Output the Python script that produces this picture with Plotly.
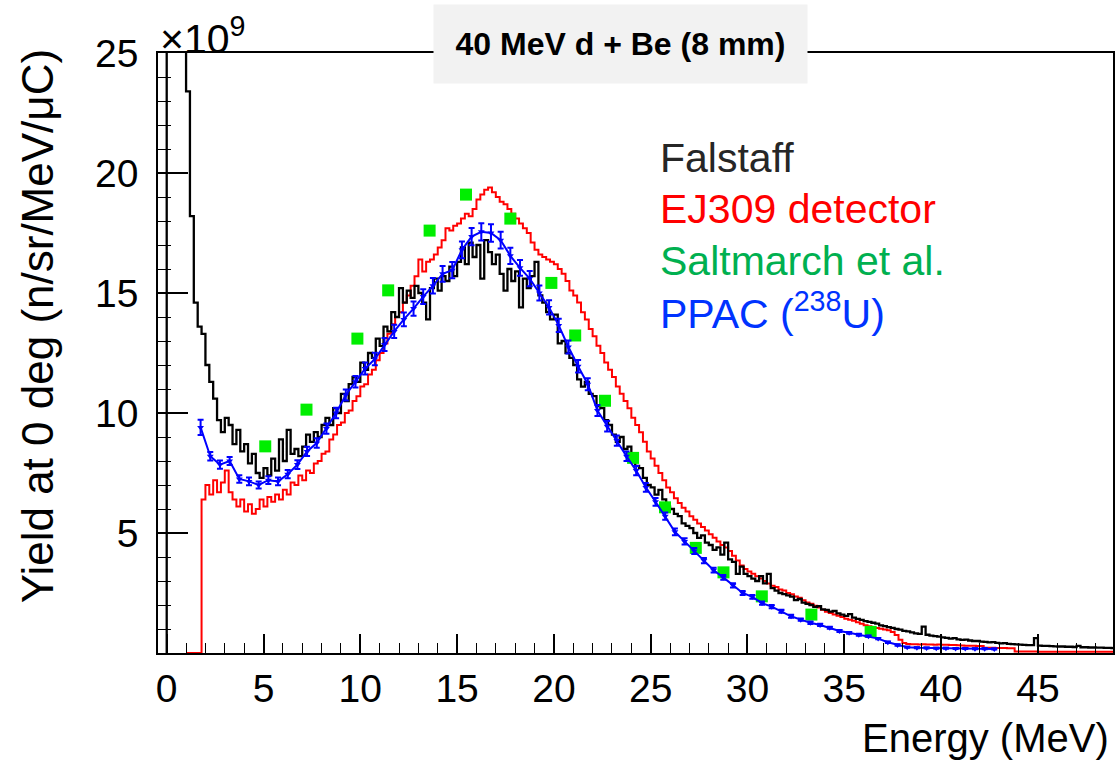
import plotly.graph_objects as go

# ---------------- data (values in units of 1e9 n/sr/MeV/uC) ----------------
# Falstaff histogram: bins of 0.2 MeV starting at 0.0 MeV
falstaff_bin_width = 0.2
falstaff_start = 0.0
falstaff_vals = [
    90, 72, 58, 44, 32, 23.4, 18.2, 14.6, 13.6, 13.3,
    12.0, 11.3, 10.6, 9.7, 9.2, 9.8, 9.5, 8.7, 9.3, 8.4,
    8.7, 7.9, 8.3, 7.5, 7.3, 7.7, 7.4, 8.1, 7.6, 8.9,
    8.0, 9.3, 8.3, 8.5, 8.2, 8.6, 9.1, 8.8, 9.2, 9.0,
    9.5, 9.8, 9.5, 10.2, 10.0, 10.8, 10.5, 11.2, 11.5, 11.3,
    12.1, 11.8, 12.5, 12.3, 13.1, 12.8, 13.6, 13.4, 14.2, 14.0,
    15.2, 14.6, 15.1, 14.8, 15.3, 15.0, 14.6, 13.9, 15.2, 15.6,
    15.1, 15.7, 15.5, 16.1, 15.7, 16.3, 16.9, 16.2, 17.1, 16.5,
    17.0, 15.6, 17.2, 16.7, 16.2, 16.6, 15.8, 15.1, 16.0, 15.5,
    15.9, 14.4, 15.6, 15.2, 15.7, 16.3, 14.9, 14.6, 14.2, 13.9,
    14.1, 12.9, 13.0, 12.5, 12.3, 12.0, 11.4, 11.1, 11.3, 10.8,
    10.7, 10.3, 10.2, 9.7, 9.5, 9.1, 8.8, 9.0, 8.5, 8.6,
    8.1, 7.8, 7.7, 7.3, 7.0, 6.9, 6.6, 6.8, 6.4, 6.1,
    6.0, 5.8, 5.7, 5.4, 5.3, 5.2, 5.0, 4.8, 4.9, 4.6,
    4.5, 4.3, 4.4, 4.1, 4.6, 3.9, 3.8, 3.3, 3.6, 3.3,
    3.2, 3.1, 3.0, 3.2, 2.9, 3.3, 2.7, 2.6, 2.5, 2.45,
    2.4, 2.35, 2.2, 2.25, 2.1, 2.05, 2.0, 1.92, 1.95, 1.82,
    1.8, 1.72, 1.75, 1.65, 1.6, 1.55, 1.62, 1.47, 1.42, 1.38,
    1.33, 1.3, 1.26, 1.22, 1.15, 1.12, 1.08, 1.05, 1.0, 0.97,
    0.92, 0.9, 0.86, 0.82, 0.8, 1.1, 0.76, 0.72, 0.7, 0.68,
    0.65, 0.63, 0.6, 0.62, 0.57, 0.55, 0.56, 0.52, 0.5, 0.5,
    0.47, 0.46, 0.44, 0.45, 0.42, 0.4, 0.41, 0.38, 0.37, 0.36,
    0.35, 0.34, 0.33, 0.33, 0.62, 0.31, 0.3, 0.3, 0.29, 0.28,
    0.27, 0.27, 0.26, 0.26, 0.25, 0.3, 0.24, 0.24, 0.23, 0.23,
    0.22, 0.22, 0.21, 0.21, 0.2,
]

# EJ309 detector histogram: bins of 0.2 MeV starting at 1.0 MeV
ej309_bin_width = 0.2
ej309_start = 1.0
ej309_vals = [
    0, 0, 0, 0,
    6.4, 7.0, 6.6, 7.2, 6.7, 7.1, 7.6, 6.7, 6.4, 6.1,
    6.4, 5.9, 6.2, 5.8, 6.0, 6.4, 6.1, 6.5, 6.3, 6.6,
    6.4, 6.8, 6.6, 7.1, 7.0, 7.4, 7.2, 7.6, 7.5, 7.9,
    8.0, 8.3, 8.4, 8.9, 9.1, 9.5, 9.6, 10.0, 10.1, 10.5,
    10.7, 11.1, 11.2, 11.6, 11.8, 12.2, 12.5, 12.9, 13.3, 13.7,
    14.0, 14.2, 14.6, 14.9, 15.3, 15.7, 16.4, 15.9, 16.3, 16.4,
    16.6, 16.9, 17.2, 17.7, 17.6, 17.8, 17.9, 18.1, 18.3, 18.2,
    18.5, 18.9, 19.1, 19.3, 19.4, 19.2, 19.0, 18.8, 18.7, 18.5,
    18.3, 18.1, 17.9, 17.7, 17.5, 17.1, 16.8, 16.6, 16.5, 16.4,
    16.3, 16.2, 16.0, 15.8, 15.5, 15.1, 14.9, 14.6, 14.2, 13.9,
    13.5, 13.2, 12.8, 12.5, 12.1, 11.8, 11.5, 11.1, 10.8, 10.5,
    10.2, 9.8, 9.5, 9.2, 8.8, 8.4, 8.1, 7.8, 7.5, 7.2,
    6.9, 6.7, 6.45, 6.25, 6.05, 5.9, 5.7, 5.55, 5.4, 5.25,
    5.1, 4.95, 4.8, 4.65, 4.5, 4.4, 4.25, 4.05, 3.85, 3.65,
    3.5, 3.4, 3.3, 3.2, 3.1, 3.0, 2.9, 2.8, 2.75, 2.65,
    2.6, 2.5, 2.45, 2.35, 2.3, 2.2, 2.1, 2.05, 1.97, 1.9,
    1.8, 1.72, 1.67, 1.6, 1.55, 1.5, 1.43, 1.39, 1.34, 1.28,
    1.22, 1.16, 1.11, 1.07, 1.04, 1.01, 0.98, 0.95, 0.88, 0.75,
    0.55, 0.42, 0.37, 0.36, 0.36, 0.35, 0.36, 0.35, 0.35, 0.34,
    0.35, 0.34, 0.34, 0.33, 0.33, 0.32, 0.31, 0.3, 0.3, 0.3,
    0.29, 0.29, 0.22, 0.22, 0.22, 0.21, 0.21, 0.21, 0.2, 0.2,
    0.06, 0.06, 0.06, 0.06, 0.06, 0.06, 0.05, 0.05, 0.05, 0.05,
    0.05, 0.05, 0.05, 0.05, 0.05, 0.05, 0.05, 0.05, 0.05, 0.05,
    0.05, 0.05, 0.05, 0.05, 0.05, 0.05,
]

# Saltmarch et al. data points
saltmarch_E = [5.09, 7.22, 9.85, 11.44, 13.58, 15.46, 17.75, 19.87, 21.10,
               22.64, 24.09, 25.74, 27.33, 28.76, 30.74, 33.30, 36.36]
saltmarch_Y = [8.61, 10.14, 13.10, 15.11, 17.60, 19.10, 18.10, 15.42, 13.23,
               10.51, 8.13, 6.07, 4.38, 3.36, 2.36, 1.60, 0.88]

# PPAC (238U): points every 0.5 MeV starting at 1.75 MeV
ppac_start = 1.75
ppac_step = 0.5
ppac_vals = [
    9.4, 8.2, 7.85, 8.0, 7.25, 7.15, 7.0, 7.2, 7.15, 7.45,
    7.85, 8.4, 8.75, 9.35, 10.0, 10.75, 11.3, 11.85, 12.25, 12.85,
    13.4, 13.9, 14.35, 14.85, 15.3, 15.8, 15.95, 16.8, 17.35, 17.55,
    17.5, 17.2, 16.55, 16.05, 15.6, 15.0, 14.4, 13.65, 12.75, 11.95,
    11.2, 10.1, 9.45, 8.85, 8.2, 7.6, 6.9, 6.3, 5.7, 5.05,
    4.65, 4.25, 3.85, 3.45, 3.15, 2.82, 2.5, 2.34, 2.08, 1.93,
    1.74, 1.53, 1.39, 1.26, 1.17, 1.05, 0.92, 0.84, 0.76, 0.7,
    0.6, 0.45, 0.33, 0.24, 0.22, 0.21, 0.2, 0.2, 0.19, 0.19,
    0.18, 0.18, 0.17,
]
ppac_errs = [
    0.32, 0.18, 0.17, 0.17, 0.16, 0.16, 0.15, 0.16, 0.16, 0.17,
    0.18, 0.19, 0.2, 0.21, 0.22, 0.23, 0.24, 0.25, 0.26, 0.27,
    0.28, 0.29, 0.3, 0.31, 0.32, 0.33, 0.34, 0.35, 0.36, 0.36,
    0.36, 0.35, 0.34, 0.33, 0.32, 0.31, 0.3, 0.28, 0.27, 0.26,
    0.25, 0.23, 0.22, 0.21, 0.2, 0.19, 0.18, 0.16, 0.15, 0.14,
    0.13, 0.12, 0.11, 0.1, 0.1, 0.09, 0.08, 0.08, 0.07, 0.07,
    0.06, 0.06, 0.05, 0.05, 0.05, 0.04, 0.04, 0.04, 0.04, 0.03,
    0.03, 0.03, 0.03, 0.02, 0.02, 0.02, 0.02, 0.02, 0.02, 0.02,
    0.02, 0.02, 0.02,
]

x_tick_vals = [0, 5, 10, 15, 20, 25, 30, 35, 40, 45]
y_tick_vals = [5, 10, 15, 20, 25]

title_text = "<b>40 MeV d + Be (8 mm)</b>"
x_title = "Energy (MeV)"
y_title = "Yield at 0 deg (n/sr/MeV/\u03bcC)"
legend_texts = ["Falstaff", "EJ309 detector", "Saltmarch et al.", "PPAC (<sup>238</sup>U)"]
legend_colors = ["#262626", "#ff0000", "#00b050", "#0033ff"]


def hist_xy(start, width, vals, from_zero=False):
    edges = [round(start + width * i, 4) for i in range(len(vals) + 1)]
    xs = list(edges[:-1]) + [edges[-1]]
    ys = list(vals) + [vals[-1]]
    if from_zero:
        xs = [edges[0]] + xs
        ys = [0] + ys
    return xs, ys


FONT = "Liberation Sans, Arial, Helvetica, sans-serif"

fig = go.Figure()

# EJ309 (red)
rx, ry = hist_xy(ej309_start, ej309_bin_width, ej309_vals)
fig.add_trace(go.Scatter(x=rx, y=ry, mode="lines", line=dict(color="#ff0000", width=2, shape="hv"),
                         name="EJ309 detector"))

# Falstaff (black)
fx, fy = hist_xy(falstaff_start, falstaff_bin_width, falstaff_vals, from_zero=True)
fig.add_trace(go.Scatter(x=fx, y=fy, mode="lines", line=dict(color="#000000", width=2.3, shape="hv"),
                         name="Falstaff"))

# Saltmarch (green squares)
fig.add_trace(go.Scatter(x=saltmarch_E, y=saltmarch_Y, mode="markers",
                         marker=dict(symbol="square", size=12, color="#00ee00", line=dict(width=0)),
                         name="Saltmarch et al."))

# PPAC (blue)
ppac_E = [ppac_start + ppac_step * i for i in range(len(ppac_vals))]
fig.add_trace(go.Scatter(x=ppac_E, y=ppac_vals, mode="lines+markers",
                         line=dict(color="#0000ff", width=2),
                         marker=dict(symbol="triangle-down", size=6, color="#0000ff"),
                         error_y=dict(type="data", array=ppac_errs, visible=True,
                                      color="#0000ff", thickness=2, width=3),
                         name="PPAC"))

axis_common = dict(
    showline=True, linecolor="black", linewidth=1.5, mirror=True,
    showgrid=False, zeroline=False, ticks="inside", tickcolor="black", tickwidth=1.5,
    tickfont=dict(family=FONT, size=39, color="black"),
)

fig.update_xaxes(range=[-0.45, 48.88], tickmode="array", tickvals=x_tick_vals,
                 ticklen=19, ticklabelstandoff=0,
                 minor=dict(dtick=1, tick0=0, ticks="inside", ticklen=10, tickwidth=1.2,
                            tickcolor="black", showgrid=False),
                 **axis_common)
fig.update_yaxes(range=[0, 25], tickmode="array", tickvals=y_tick_vals,
                 ticklen=30, ticklabelstandoff=10,
                 minor=dict(dtick=1, tick0=0, ticks="inside", ticklen=13, tickwidth=1.2,
                            tickcolor="black", showgrid=False),
                 **axis_common)

annotations = [
    dict(text=title_text, xref="paper", yref="paper", x=0.4843, y=1.015,
         xanchor="center", yanchor="middle", showarrow=False,
         font=dict(family=FONT, size=32, color="black"),
         bgcolor="#f2f2f2", width=373, height=78, borderpad=0),
    dict(text="\u00d710<sup>9</sup>", xref="paper", yref="paper", x=0.0, y=0.982,
         xanchor="left", yanchor="bottom", showarrow=False,
         font=dict(family=FONT, size=41, color="black")),
    dict(text=y_title, xref="paper", yref="paper", x=-0.1264, y=0.545,
         xanchor="center", yanchor="middle", textangle=-90, showarrow=False,
         font=dict(family=FONT, size=44, color="black")),
    dict(text=x_title, xref="paper", yref="paper", x=0.998, y=-0.1417,
         xanchor="right", yanchor="middle", showarrow=False,
         font=dict(family=FONT, size=40, color="black")),
]
leg_y = [0.825, 0.74, 0.6533, 0.57]
for t, c, yy in zip(legend_texts, legend_colors, leg_y):
    annotations.append(dict(text=t, xref="paper", yref="paper", x=0.5235, y=yy,
                            xanchor="left", yanchor="middle", showarrow=False,
                            font=dict(family=FONT, size=41, color=c)))

fig.update_layout(
    width=1117, height=767,
    margin=dict(l=158, r=2, t=53, b=114),
    plot_bgcolor="white", paper_bgcolor="white",
    showlegend=False,
    annotations=annotations,
)

fig.write_html("out.html")
